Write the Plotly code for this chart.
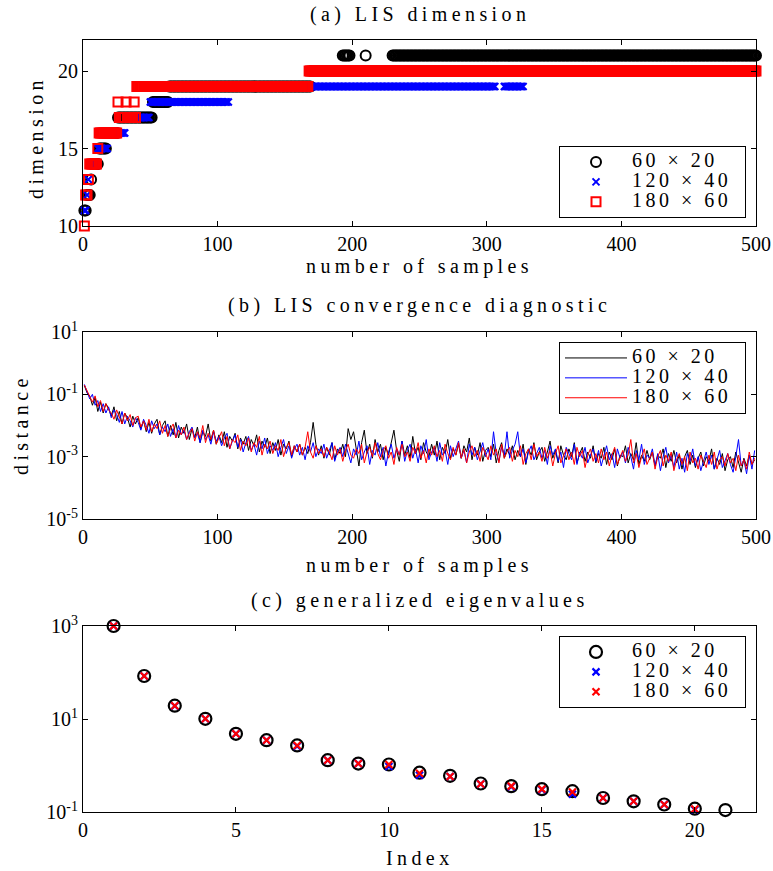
import plotly.graph_objects as go

# ---------------- data ----------------
series_names = ["60 × 20", "120 × 40", "180 × 60"]

# (a) LIS dimension: run-length encoded (dimension value, number of consecutive samples)
dim_60_vals = [11, 12, 13, 14, 15, 16, 17, 18, 19, 20, 21, 20, 21, 20, 21]
dim_60_runs = [2, 3, 1, 5, 6, 8, 26, 12, 106, 23, 6, 11, 1, 19, 271]
dim_120_vals = [11, 12, 13, 14, 15, 16, 17, 18, 19, 20, 19, 20]
dim_120_runs = [2, 1, 1, 6, 8, 13, 18, 59, 198, 6, 15, 173]
dim_180_vals = [10, 12, 13, 14, 15, 16, 18, 17, 18, 17, 18, 17, 19, 20]
dim_180_runs = [1, 2, 1, 6, 1, 14, 1, 5, 1, 5, 1, 1, 128, 333]

# (b) LIS convergence diagnostic: log10(distance) at samples 1,3,...,499
samples_b = list(range(1, 501, 2))
logdist_60 = [
    -0.72, -0.95, -1.05, -1.35, -1.10, -1.55, -1.25, -1.60, -1.30, -1.45,
    -1.70, -1.40, -1.85, -1.55, -1.95, -1.60, -1.75, -2.05, -1.70, -1.95,
    -1.75, -2.10, -1.85, -2.20, -1.90, -2.25, -1.95, -1.80, -2.30, -2.00,
    -1.85, -2.35, -2.00, -2.30, -1.90, -2.40, -2.05, -2.25, -1.95, -2.45,
    -2.10, -2.40, -2.05, -2.55, -2.20, -2.35, -1.95, -2.50, -2.15, -2.60,
    -2.30, -2.55, -2.20, -2.70, -2.35, -2.50, -2.25, -2.75, -2.40, -2.60,
    -2.35, -2.80, -2.45, -2.65, -2.30, -2.85, -2.50, -2.70, -2.40, -2.90,
    -2.55, -2.80, -2.45, -2.95, -2.60, -2.75, -2.50, -3.00, -2.65, -2.85,
    -2.60, -2.95, -2.70, -2.90, -2.55, -1.90, -2.60, -2.95, -2.65, -3.05,
    -2.70, -2.95, -2.55, -3.10, -2.75, -2.90, -2.60, -3.00, -2.10, -2.45,
    -2.20, -2.75, -3.30, -2.55, -2.15, -2.90, -2.60, -3.05, -2.45, -2.85,
    -2.60, -3.10, -2.70, -2.95, -2.55, -2.15, -2.80, -3.15, -2.50, -2.95,
    -2.65, -3.05, -2.35, -2.90, -2.70, -3.10, -2.55, -2.85, -3.00, -2.60,
    -2.95, -2.50, -3.10, -2.70, -2.90, -2.45, -3.05, -2.75, -2.95, -2.60,
    -3.05, -2.65, -2.85, -2.40, -3.10, -2.70, -2.95, -2.55, -3.15, -2.80,
    -2.70, -3.00, -2.60, -3.20, -2.80, -2.55, -3.05, -2.75, -2.95, -2.65,
    -3.10, -2.80, -3.00, -2.60, -3.25, -2.75, -2.95, -2.55, -3.10, -2.85,
    -2.70, -3.15, -2.85, -2.50, -3.05, -2.80, -3.20, -2.65, -2.95, -3.10,
    -2.75, -3.00, -2.55, -3.20, -2.90, -2.70, -3.15, -2.85, -3.05, -2.65,
    -3.20, -2.90, -3.05, -2.70, -3.25, -2.85, -3.10, -2.75, -3.30, -2.95,
    -3.00, -2.65, -3.20, -2.90, -3.10, -2.55, -3.25, -2.95, -3.15, -2.80,
    -3.10, -2.85, -3.30, -2.95, -3.05, -2.75, -3.35, -2.90, -3.15, -2.80,
    -3.20, -2.95, -3.40, -3.00, -2.80, -3.25, -2.95, -3.35, -3.05, -2.85,
    -3.30, -3.00, -3.15, -2.75, -3.40, -3.05, -3.25, -2.90, -3.45, -3.10,
    -3.00, -3.35, -2.85, -3.20, -3.50, -3.05, -3.30, -2.95, -3.25, -3.10,
]
logdist_120 = [
    -0.68, -0.95, -1.15, -1.00, -1.35, -1.20, -1.55, -1.30, -1.60, -1.40,
    -1.75, -1.50, -1.65, -1.90, -1.55, -1.95, -1.70, -1.85, -2.05, -1.75,
    -1.90, -2.15, -1.80, -2.00, -2.25, -1.85, -2.10, -1.95, -2.30, -2.05,
    -2.20, -1.95, -2.35, -2.10, -2.40, -2.00, -2.30, -2.15, -2.45, -2.20,
    -2.05, -2.40, -2.25, -2.55, -2.15, -2.45, -2.30, -2.60, -2.20, -2.50,
    -2.35, -2.65, -2.40, -2.25, -2.75, -2.50, -2.30, -2.70, -2.45, -2.85,
    -2.55, -2.35, -2.80, -2.60, -2.95, -2.50, -2.75, -2.40, -2.90, -2.65,
    -2.80, -2.55, -3.00, -2.70, -2.45, -2.90, -2.65, -3.05, -2.75, -2.60,
    -2.95, -2.70, -3.10, -2.65, -2.85, -2.55, -3.00, -2.75, -2.90, -2.60,
    -3.05, -2.80, -2.55, -3.15, -2.85, -2.70, -3.00, -2.60, -2.90, -3.20,
    -2.75, -2.95, -2.50, -3.10, -2.85, -2.65, -3.25, -2.80, -2.95, -2.55,
    -3.00, -2.70, -3.30, -2.85, -2.60, -3.05, -2.75, -2.95, -2.50, -3.15,
    -2.80, -2.60, -3.05, -2.75, -3.20, -2.65, -2.90, -2.45, -3.10, -2.85,
    -2.70, -3.15, -2.55, -2.95, -2.80, -3.25, -2.65, -3.00, -2.75, -2.50,
    -3.05, -2.80, -3.20, -2.60, -2.95, -2.70, -3.10, -2.85, -2.55, -3.00,
    -2.75, -3.10, -2.20, -2.90, -3.15, -2.70, -2.95, -2.20, -3.05, -2.80,
    -2.60, -2.20, -3.00, -2.75, -3.20, -2.85, -2.65, -3.10, -2.90, -2.70,
    -3.05, -2.80, -3.25, -2.65, -2.95, -2.75, -3.15, -2.85, -3.35, -2.70,
    -2.90, -3.10, -2.60, -3.25, -2.85, -3.05, -2.70, -3.20, -2.95, -2.75,
    -3.15, -2.80, -3.30, -2.95, -2.65, -3.10, -2.90, -3.35, -2.75, -3.05,
    -2.85, -3.20, -2.70, -3.00, -3.40, -2.80, -3.10, -2.60, -3.25, -2.95,
    -3.05, -2.75, -3.30, -2.90, -3.45, -3.00, -2.70, -3.20, -2.95, -3.35,
    -2.85, -3.40, -3.05, -3.50, -2.90, -3.15, -2.75, -3.30, -3.00, -3.45,
    -3.10, -2.85, -3.25, -2.95, -3.40, -3.05, -2.80, -3.35, -3.15, -2.90,
    -3.25, -3.50, -3.00, -2.45, -3.30, -3.10, -3.55, -2.95, -3.40, -2.80,
]
logdist_180 = [
    -0.70, -0.90, -1.10, -1.25, -1.05, -1.40, -1.20, -1.55, -1.30, -1.50,
    -1.60, -1.80, -1.50, -1.70, -1.95, -1.60, -1.85, -1.65, -2.00, -1.75,
    -1.70, -2.05, -1.85, -2.15, -1.80, -2.20, -1.95, -2.10, -1.85, -2.25,
    -2.00, -2.35, -2.10, -1.95, -2.40, -2.15, -2.30, -2.05, -2.45, -2.25,
    -2.10, -2.50, -2.20, -2.40, -2.00, -2.55, -2.25, -2.45, -2.15, -2.60,
    -2.40, -2.20, -2.65, -2.35, -2.75, -2.45, -2.55, -2.30, -2.80, -2.50,
    -2.65, -2.40, -2.85, -2.55, -2.70, -2.35, -2.95, -2.60, -2.75, -2.50,
    -2.90, -2.65, -2.80, -2.45, -3.00, -2.70, -2.55, -2.95, -2.65, -2.85,
    -2.60, -2.95, -2.70, -2.20, -2.85, -3.05, -2.65, -2.90, -2.75, -3.00,
    -2.70, -2.85, -3.10, -2.65, -2.95, -2.75, -3.15, -2.80, -2.60, -2.95,
    -3.05, -2.75, -2.90, -2.60, -3.20, -2.85, -2.70, -3.00, -2.55, -2.90,
    -3.10, -2.80, -2.65, -3.05, -2.85, -3.25, -2.70, -2.95, -2.60, -3.00,
    -2.85, -3.15, -2.70, -2.90, -2.55, -3.05, -2.80, -3.20, -2.75, -2.95,
    -2.65, -3.00, -2.80, -3.15, -2.60, -2.90, -3.10, -2.70, -2.95, -2.55,
    -3.05, -2.75, -3.20, -2.85, -2.65, -3.00, -2.80, -3.15, -2.70, -2.90,
    -3.10, -2.65, -2.95, -2.75, -3.20, -2.60, -3.05, -2.85, -2.70, -3.15,
    -2.80, -3.00, -2.65, -3.25, -2.90, -2.75, -3.10, -2.60, -3.00, -2.85,
    -3.15, -2.70, -3.05, -2.80, -3.30, -2.90, -2.65, -3.20, -2.95, -2.75,
    -3.10, -2.85, -3.25, -2.70, -3.00, -2.80, -3.35, -2.95, -2.75, -3.15,
    -2.90, -3.20, -2.75, -3.10, -2.85, -3.30, -2.95, -2.70, -3.25, -3.00,
    -2.80, -3.15, -2.95, -2.45, -3.20, -2.90, -3.35, -3.00, -2.75, -3.25,
    -3.05, -2.85, -3.40, -3.00, -2.80, -3.30, -2.95, -3.15, -2.85, -3.45,
    -3.10, -2.90, -3.25, -3.00, -3.45, -2.85, -3.20, -3.05, -3.40, -2.95,
    -3.15, -3.35, -2.95, -3.25, -2.85, -3.40, -3.10, -3.00, -3.30, -2.90,
    -3.20, -3.05, -3.45, -2.95, -3.30, -3.10, -3.40, -2.85, -3.25, -3.05,
]

# (c) generalized eigenvalues
eig_index_60 = list(range(1, 22))
eig_60 = [1000, 84, 19.3, 10.1, 4.8, 3.5, 2.7, 1.3, 1.1, 1.05, 0.70, 0.60,
          0.41, 0.36, 0.31, 0.28, 0.20, 0.17, 0.145, 0.118, 0.11]
eig_index_120 = list(range(1, 21))
eig_120 = [1000, 84, 19.0, 10.1, 4.8, 3.5, 2.6, 1.3, 1.1, 0.95, 0.62, 0.58,
           0.40, 0.35, 0.30, 0.24, 0.20, 0.17, 0.145, 0.112]
eig_index_180 = list(range(1, 21))
eig_180 = [1000, 84, 19.3, 10.1, 4.8, 3.5, 2.7, 1.3, 1.1, 1.05, 0.68, 0.58,
           0.40, 0.36, 0.31, 0.27, 0.20, 0.17, 0.145, 0.116]

# ---------------- helpers ----------------
def expand(vals, runs):
    out = []
    for v, n in zip(vals, runs):
        out += [v] * n
    return out

FONT = "Liberation Serif"
colors = ["black", "#0000ff", "#ff0000"]

def ls(text, sp=4.4, size=None):
    st = f"letter-spacing:{sp}px"
    if size:
        st += f";font-size:{size}px"
    return f'<span style="{st}">{text}</span>'

def legname(t):
    return ls(t + "\u00a0", sp=3.5, size=20)

fig = go.Figure()

# ---- panel (a)
dims = [expand(dim_60_vals, dim_60_runs),
        expand(dim_120_vals, dim_120_runs),
        expand(dim_180_vals, dim_180_runs)]
samples_a = list(range(1, 501))
sym_a = ["circle-open", "x-thin-open", "square-open"]
size_a = [10, 7, 9]
for i in range(3):
    fig.add_trace(go.Scatter(
        x=samples_a, y=dims[i], mode="markers", name=legname(series_names[i]),
        marker=dict(symbol=sym_a[i], size=size_a[i], color=colors[i],
                    line=dict(width=2, color=colors[i])),
        cliponaxis=False, xaxis="x", yaxis="y", legend="legend"))

# ---- panel (b)
logs = [logdist_60, logdist_120, logdist_180]
for i in range(3):
    fig.add_trace(go.Scatter(
        x=samples_b, y=[10 ** v for v in logs[i]], mode="lines",
        name=legname(series_names[i]), line=dict(color=colors[i], width=1),
        xaxis="x2", yaxis="y2", legend="legend2"))

# ---- panel (c)
eig_idx = [eig_index_60, eig_index_120, eig_index_180]
eigs = [eig_60, eig_120, eig_180]
sym_c = ["circle-open", "x-thin-open", "x-thin-open"]
size_c = [12, 7, 7]
for i in range(3):
    fig.add_trace(go.Scatter(
        x=eig_idx[i], y=eigs[i], mode="markers", name=legname(series_names[i]),
        marker=dict(symbol=sym_c[i], size=size_c[i], color=colors[i],
                    line=dict(width=2.2, color=colors[i])),
        cliponaxis=False, xaxis="x3", yaxis="y3", legend="legend3"))

xdom = [83 / 773, 756 / 773]
H = 871.0
def ydom(top, bot):
    return [1 - bot / H, 1 - top / H]

tickfont = dict(family=FONT, size=20, color="black")
common = dict(showline=True, linecolor="black", linewidth=1, mirror="ticks",
              ticks="inside", ticklen=5, tickcolor="black", showgrid=False,
              zeroline=False, tickfont=tickfont, automargin=False)

def logtick(e):
    return "10<sup>" + str(e) + "</sup>"

legend_common = dict(font=dict(family=FONT, size=13, color="black"),
                     bordercolor="black", borderwidth=1, bgcolor="white",
                     xanchor="right", x=746 / 773, itemsizing="trace",
                     itemwidth=62, tracegroupgap=0)

fig.update_layout(
    template="none",
    width=773, height=871, margin=dict(l=0, r=0, t=0, b=0, autoexpand=False),
    plot_bgcolor="white", paper_bgcolor="white",
    font=dict(family=FONT, color="black"),
    xaxis=dict(domain=xdom, range=[0, 500], tickvals=[0, 100, 200, 300, 400, 500],
               anchor="y", **common),
    yaxis=dict(domain=ydom(40, 226), range=[10, 22], tickvals=[10, 15, 20],
               anchor="x", **common),
    xaxis2=dict(domain=xdom, range=[0, 500], tickvals=[0, 100, 200, 300, 400, 500],
                anchor="y2", **common),
    yaxis2=dict(domain=ydom(332, 519), type="log", range=[-5, 1],
                tickvals=[1e-5, 1e-3, 1e-1, 1e1],
                ticktext=[logtick(-5), logtick(-3), logtick(-1), logtick(1)],
                anchor="x2", **common),
    xaxis3=dict(domain=xdom, range=[0, 22], tickvals=[0, 5, 10, 15, 20],
                anchor="y3", **common),
    yaxis3=dict(domain=ydom(626, 812), type="log", range=[-1, 3],
                tickvals=[1e-1, 1e1, 1e3],
                ticktext=[logtick(-1), logtick(1), logtick(3)],
                anchor="x3", **common),
    legend=dict(y=1 - 218 / H, yanchor="bottom", **legend_common),
    legend2=dict(y=1 - 342 / H, yanchor="top", **legend_common),
    legend3=dict(y=1 - 636 / H, yanchor="top", **legend_common),
    showlegend=True,
)

xc = (83 + 756) / 2 / 773
ann = []
def add_text(text, x, y, size=20, angle=0):
    ann.append(dict(text=text, x=x, y=1 - y / H, xref="paper", yref="paper",
                    showarrow=False, xanchor="center", yanchor="middle",
                    textangle=angle, font=dict(family=FONT, size=size, color="black")))

add_text(ls("(a) LIS dimension"), xc, 15)
add_text(ls("number of samples"), xc, 267)
add_text(ls("dimension"), 36 / 773, 138, angle=-90)
add_text(ls("(b) LIS convergence diagnostic"), xc, 305)
add_text(ls("number of samples"), xc, 565)
add_text(ls("distance"), 21 / 773, 425, angle=-90)
add_text(ls("(c) generalized eigenvalues"), xc, 600)
add_text(ls("Index"), xc, 858)
fig.update_layout(annotations=ann)

fig.write_html("out.html", config={"displayModeBar": False},
               post_script="document.body.style.margin='0';document.body.style.overflow='hidden';")
